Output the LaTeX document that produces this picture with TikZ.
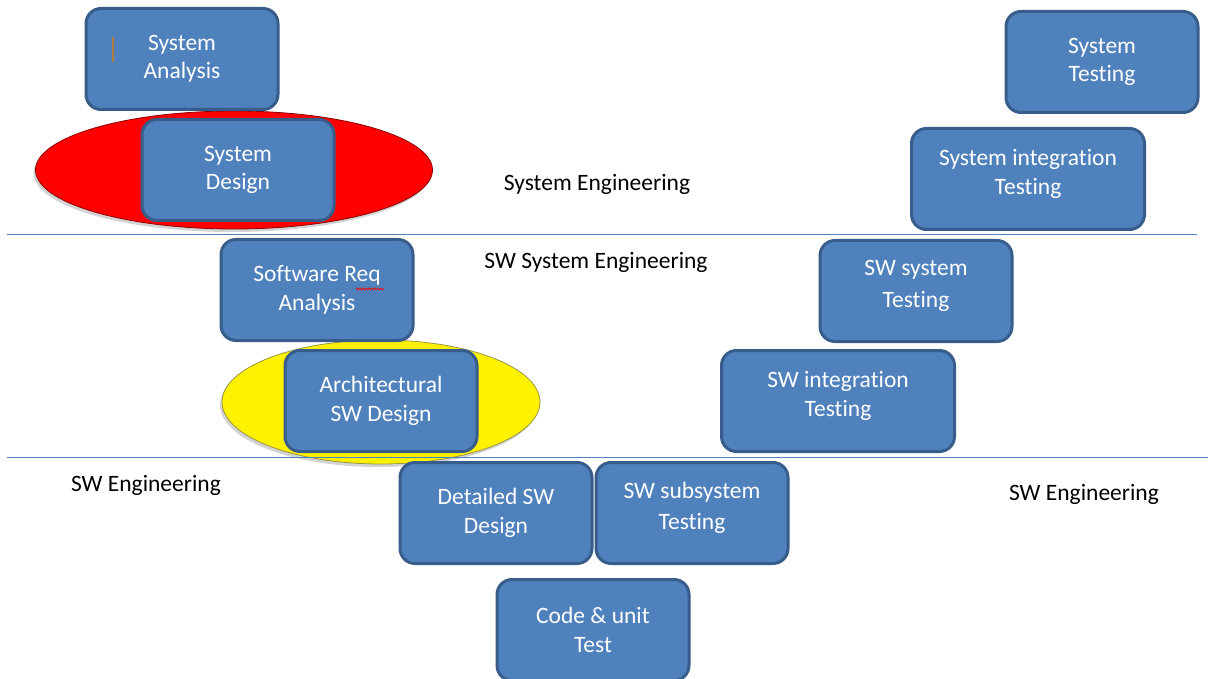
\documentclass[tikz,border=0pt]{standalone}
\usepackage{fontspec}
\setmainfont{Carlito}[Ligatures=NoCommon]
\usetikzlibrary{shapes.geometric, shadows, decorations.pathmorphing}
\definecolor{bFill}{HTML}{4F81BD}
\definecolor{bBdr}{HTML}{385D8A}
\definecolor{sepC}{HTML}{4F81BD}
\definecolor{curC}{HTML}{B07A3A}
\tikzset{
  % blue process boxes of the V
  stage/.style={draw=bBdr, line width=3pt, fill=bFill, rounded corners=15pt,
    minimum width=192pt, minimum height=101pt, text=white, align=center,
    font=\fontsize{23.5}{28.5}\selectfont, inner sep=3pt},
  wide/.style={stage, minimum width=233pt},
  hi/.style={text depth=14pt},
  % highlight ovals behind the design boxes
  oval/.style={ellipse, draw=#1!55!black, line width=0.8pt, fill=#1, inner sep=0pt,
    drop shadow={shadow xshift=-2pt, shadow yshift=-3pt, opacity=0.35}},
  % level labels
  lvl/.style={font=\fontsize{23.5}{28}\selectfont, text=black},
  sep/.style={draw=sepC, line width=1pt},
}
\begin{document}
\begin{tikzpicture}[x=1pt, y=-1pt]
\useasboundingbox (0,0) rectangle (1208,679);

% ---- highlight ovals ----
\node[oval=red, minimum width=397pt, minimum height=118pt] (redO) at (234,170) {};
\node[oval=yellow, minimum width=318pt, minimum height=124pt] (yelO) at (381,402) {};

% ---- level separators ----
\draw[sep] (7,235) -- (1197,235);
\draw[sep] (7,457) -- (1208,457);

% ---- left leg (design) ----
\node[stage] (sysA) at (182,59) {System\\Analysis};
\node[stage] (sysD) at (238,170) {System\\Design};
\node[stage] (swReq) at (317,290) {Software Req\\Analysis};
\node[stage] (arch) at (381,401) {Architectural\\SW Design};
\node[stage] (det) at (496,513) {Detailed SW\\Design};

% ---- bottom ----
\node[stage] (code) at (593,630) {Code \& unit\\Test};

% ---- right leg (testing) ----
\node[stage, hi] (sub) at (692,513) {SW subsystem\\[3pt]Testing};
\node[wide, hi] (swInt) at (838,401) {SW integration\\Testing};
\node[stage, hi] (swSys) at (916,291) {SW system\\[3pt]Testing};
\node[wide, hi] (sysInt) at (1028,179) {System integration\\Testing};
\node[stage] (sysT) at (1102,62) {System\\Testing};

% ---- level labels ----
\node[lvl] (lSys) at (597,184) {System Engineering};
\node[lvl] (lSwSys) at (596,262) {SW System Engineering};
\node[lvl] (lSwL) at (146,485) {SW Engineering};
\node[lvl] (lSwR) at (1084,494) {SW Engineering};

% editing marks left in the source picture
\draw[curC, line width=2pt] (113,37) -- (113,62);
\draw[red, line width=0.7pt, decorate, decoration={snake, amplitude=1pt, segment length=3pt}]
  (356,289) -- (384,289);

\end{tikzpicture}
\end{document}
